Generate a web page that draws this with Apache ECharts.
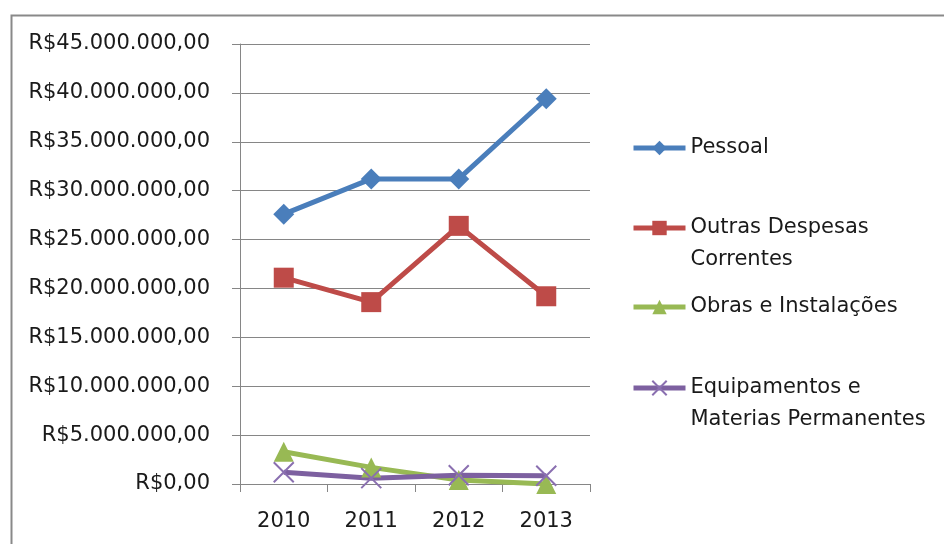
<!DOCTYPE html>
<html>
<head>
<meta charset="utf-8">
<script src="https://cdn.jsdelivr.net/npm/echarts@6/dist/echarts.min.js"></script>
<style>html,body{margin:0;padding:0;background:#fff;}#c{width:944px;height:544px;}</style>
</head>
<body>
<div id="c"></div>
<script>
const categories = ['2010', '2011', '2012', '2013'];
const pessoal = [27600000, 31200000, 31200000, 39400000];
const outras = [21100000, 18600000, 26400000, 19200000];
const obras = [3300000, 1700000, 400000, 0];
const equip = [1200000, 600000, 900000, 850000];
const seriesNames = ['Pessoal', 'Outras Despesas\nCorrentes', 'Obras e Instalações', 'Equipamentos e\nMaterias Permanentes'];
const yTicks = { min: 0, max: 45000000, interval: 5000000 };

const FONT = 'DejaVu Sans';
const chart = echarts.init(document.getElementById('c'));

function fmt(v) {
  const s = String(Math.round(v));
  return 'R$' + s.replace(/\B(?=(\d{3})+(?!\d))/g, '.') + ',00';
}

function legendFor(name, top, multi) {
  return {
    data: [name],
    left: 626,
    top: top,
    orient: 'vertical',
    itemWidth: 52,
    itemHeight: 18,
    lineStyle: { width: 5 },
    formatter: multi ? function (n) { return ' \n' + n; } : '{name}',
    textStyle: {
      fontFamily: FONT, fontSize: 21, color: '#1a1a1a', lineHeight: 32
    }
  };
}

chart.setOption({
  animation: false,
  graphic: [{
    type: 'rect', left: 9, top: 13, z: -10,
    shape: { width: 960, height: 560 },
    style: { fill: 'none', stroke: '#898989', lineWidth: 2 }
  }],
  grid: { left: 240, right: 354, top: 44, bottom: 60 },
  legend: [
    legendFor(seriesNames[0], 127, false),
    legendFor(seriesNames[1], 175, true),
    legendFor(seriesNames[2], 286, false),
    legendFor(seriesNames[3], 335, true)
  ],
  xAxis: {
    type: 'category',
    data: categories,
    boundaryGap: true,
    axisLine: { lineStyle: { color: '#868686', width: 1 } },
    axisTick: { show: true, length: 8, inside: false, lineStyle: { color: '#868686' } },
    axisLabel: { fontFamily: FONT, fontSize: 21, color: '#1a1a1a', margin: 27 }
  },
  yAxis: {
    type: 'value',
    min: yTicks.min, max: yTicks.max, interval: yTicks.interval,
    axisLine: { show: true, lineStyle: { color: '#868686', width: 1 } },
    axisTick: { show: true, length: 8, lineStyle: { color: '#868686' } },
    splitLine: { show: true, lineStyle: { color: '#868686', width: 1 } },
    axisLabel: { fontFamily: FONT, fontSize: 21, color: '#1a1a1a', margin: 30, formatter: fmt }
  },
  series: [
    {
      name: seriesNames[0], type: 'line', data: pessoal,
      symbol: 'diamond', symbolSize: 21,
      lineStyle: { color: '#4a7ebb', width: 5 },
      itemStyle: { color: '#4a7ebb' }
    },
    {
      name: seriesNames[1], type: 'line', data: outras,
      symbol: 'rect', symbolSize: 20,
      lineStyle: { color: '#be4b48', width: 5 },
      itemStyle: { color: '#be4b48' }
    },
    {
      name: seriesNames[2], type: 'line', data: obras,
      symbol: 'triangle', symbolSize: 20,
      lineStyle: { color: '#98b954', width: 5 },
      itemStyle: { color: '#98b954' }
    },
    {
      name: seriesNames[3], type: 'line', data: equip,
      symbol: 'path://M0,0L10,10M10,0L0,10', symbolSize: 20,
      lineStyle: { color: '#7d60a0', width: 5 },
      itemStyle: { color: 'none', borderColor: '#8a6fb0', borderWidth: 2 }
    }
  ]
});
</script>
</body>
</html>
